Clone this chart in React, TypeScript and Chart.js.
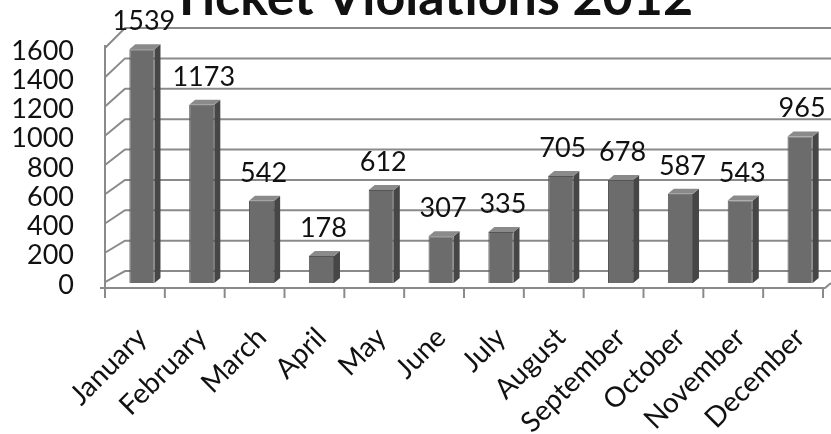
import React, { useEffect, useRef } from "react";
import { Chart, registerables } from "chart.js";

Chart.register(...registerables);

const TITLE = "Ticket Violations 2012";
const MONTHS = ["January", "February", "March", "April", "May", "June", "July", "August", "September", "October", "November", "December"];
const VIOLATIONS = [1539, 1173, 542, 178, 612, 307, 335, 705, 678, 587, 543, 965];
const Y_TICKS = [0, 200, 400, 600, 800, 1000, 1200, 1400, 1600];

const FONT = "Lato, 'Open Sans', sans-serif";
const DX = 6;
const DY = -5;

const wallPlugin = {
  id: "wall3d",
  beforeDatasetsDraw(chart: any) {
    const { ctx, chartArea, scales } = chart;
    const y = scales.y;
    const yl = scales.yl;
    const x = scales.x;
    const left = chartArea.left;
    const W = chart.width;
    ctx.save();
    ctx.strokeStyle = "#8a8a8a";
    ctx.lineWidth = 2;
    Y_TICKS.forEach((v) => {
      const p = y.getPixelForValue(v) - 12;
      const pl = yl.getPixelForValue(v) - 3;
      ctx.beginPath();
      ctx.moveTo(left - 7, pl);
      ctx.lineTo(left + 13, p);
      ctx.lineTo(W, p);
      ctx.stroke();
    });
    ctx.beginPath();
    ctx.moveTo(left - 7, yl.getPixelForValue(1600) - 6);
    ctx.lineTo(left - 7, 288);
    ctx.stroke();
    ctx.beginPath();
    ctx.moveTo(left - 12, 288);
    ctx.lineTo(W - 6, 288);
    ctx.lineTo(W, 283);
    ctx.stroke();
    const n = MONTHS.length;
    const step = x.width / n;
    for (let i = 0; i <= n; i++) {
      const px = x.getPixelForValue(0) - step / 2 + i * step - 7;
      ctx.beginPath();
      ctx.moveTo(px, 288);
      ctx.lineTo(px, 298);
      ctx.stroke();
    }
    ctx.restore();
  },
};

const bar3dPlugin = {
  id: "bar3d",
  afterDatasetsDraw(chart: any) {
    const { ctx } = chart;
    const meta = chart.getDatasetMeta(0);
    ctx.save();
    meta.data.forEach((el: any, i: number) => {
      const { x, y, base, width } = el.getProps(["x", "y", "base", "width"], true);
      const l = x - width / 2;
      const r = x + width / 2;
      ctx.fillStyle = "#464646";
      ctx.beginPath();
      ctx.moveTo(r, y);
      ctx.lineTo(r + DX, y + DY);
      ctx.lineTo(r + DX, base + DY);
      ctx.lineTo(r, base);
      ctx.closePath();
      ctx.fill();
      ctx.fillStyle = "#8a8a8a";
      ctx.beginPath();
      ctx.moveTo(l, y);
      ctx.lineTo(l + DX, y + DY);
      ctx.lineTo(r + DX, y + DY);
      ctx.lineTo(r, y);
      ctx.closePath();
      ctx.fill();
      ctx.fillStyle = "#111";
      ctx.font = `27px ${FONT}`;
      ctx.textAlign = "center";
      ctx.textBaseline = "alphabetic";
      ctx.fillText(String(VIOLATIONS[i]), x + 2, y - 19);
    });
    ctx.restore();
  },
  afterDraw(chart: any) {
    const { ctx } = chart;
    ctx.save();
    ctx.fillStyle = "#111";
    ctx.font = `bold 52px ${FONT}`;
    ctx.textAlign = "center";
    ctx.textBaseline = "alphabetic";
    ctx.fillText(TITLE, 432, 15);
    ctx.restore();
  },
};

const zeroPad = (s: any) => {
  s.paddingTop = 0;
  s.paddingBottom = 0;
  s.paddingLeft = 0;
  s.paddingRight = 0;
};

export default function App() {
  const ref = useRef<HTMLCanvasElement>(null);
  useEffect(() => {
    if (!ref.current) return;
    const chart = new Chart(ref.current, {
      type: "bar",
      data: {
        labels: MONTHS,
        datasets: [
          {
            data: VIOLATIONS,
            backgroundColor: "#6c6c6c",
            borderColor: "#555555",
            borderWidth: 1,
            categoryPercentage: 1,
            barPercentage: 0.42,
          },
        ],
      },
      options: {
        animation: false,
        responsive: false,
        layout: { padding: { top: 40, right: 1, left: 0, bottom: 0 } },
        plugins: { legend: { display: false }, tooltip: { enabled: false }, title: { display: false } },
        scales: {
          x: {
            grid: { display: false },
            border: { display: false },
            ticks: {
              color: "#111",
              font: { family: FONT, size: 28 },
              minRotation: 45,
              maxRotation: 45,
              padding: 30,
              autoSkip: false,
            },
            afterFit: (s: any) => {
              s.height = 151;
              zeroPad(s);
            },
          },
          y: {
            display: false,
            min: 0,
            max: 1600,
          },
          yl: {
            position: "left",
            bounds: "data",
            min: 13.7,
            max: 1675,
            grid: { display: false, drawTicks: false },
            border: { display: false },
            ticks: {
              color: "#111",
              font: { family: FONT, size: 27 },
              padding: 38,
              autoSkip: false,
              callback: (v: any) => String(v),
            },
            afterBuildTicks: (s: any) => {
              s.ticks = Y_TICKS.map((v) => ({ value: v }));
            },
            afterDataLimits: (s: any) => {
              s.min = 13.7;
              s.max = 1675;
            },
            afterFit: (s: any) => {
              s.width = 112;
              zeroPad(s);
            },
          },
        },
      },
      plugins: [wallPlugin, bar3dPlugin],
    });
    return () => chart.destroy();
  }, []);
  return (
    <div style={{ position: "fixed", left: 0, top: 0, width: 831, height: 434, background: "#fff" }}>
      <canvas ref={ref} width={831} height={434} />
    </div>
  );
}
